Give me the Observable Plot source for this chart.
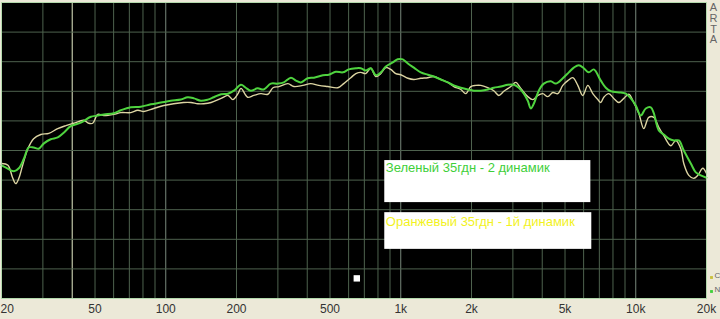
<!DOCTYPE html>
<html>
<head>
<meta charset="utf-8">
<script src="https://cdn.jsdelivr.net/npm/d3@7"></script>
<script src="https://cdn.jsdelivr.net/npm/@observablehq/plot@0.6"></script>
<style>
  html, body { margin: 0; padding: 0; background: #ECE9D8; overflow: hidden; }
</style>
</head>
<body>
<div id="chart"></div>
<script>
// Green curve: 35гдн - 2 динамик
const greenFreq = [20,20.9,22.6,23.7,24.9,26.1,27.4,28.8,30.3,32.4,34.7,36.8,39.4,43.5,48.0,51.4,54.5,60.1,64.4,71.0,78.3,86.4,95.3,105,116,124,132,141,151,160,172,184,195,209,219,230,246,261,280,300,318,341,358,376,402,427,466,494,529,567,601,644,676,710,746,783,823,864,925,971,1020,1072,1137,1217,1303,1382,1481,1586,1682,1801,1929,2046,2191,2347,2489,2666,2855,3027,3179,3339,3472,3576,3682,3867,4061,4350,4568,4892,5189,5450,5723,6009,6311,6629,7100,7457,7831,8641,9075,9528,10000,10500,11030,11590,11930,12530,13160,13820,14520,15250,16010,17150,18010,18910,20000];
const greenDb = [72.5,72.1,71.5,72.0,73.6,75.5,75.5,75.3,76.2,76.9,77.2,78.0,79.1,79.7,80.7,80.9,81.1,81.3,81.8,82.3,82.4,82.8,83.1,83.4,83.6,84.0,83.8,83.4,83.6,84.0,84.5,84.6,85.1,86.1,85.6,85.1,85.5,85.3,86.3,86.3,86.5,87.3,86.8,86.5,87.2,87.3,87.7,87.8,88.3,88.2,88.7,88.9,88.9,88.5,88.9,87.7,88.2,89.2,89.9,90.4,90.4,89.7,89.0,88.2,87.8,87.5,87.0,86.5,86.0,85.6,85.3,85.1,85.1,85.3,85.6,85.8,86.1,86.1,85.6,84.6,83.4,82.1,82.9,85.1,86.3,86.7,86.3,87.2,88.2,89.0,89.4,88.9,88.2,88.7,86.8,85.6,85.0,84.8,84.6,83.8,82.6,80.9,82.1,82.3,81.3,78.4,77.7,77.0,76.7,76.7,75.0,72.8,71.3,70.8,70.4];

// Orange curve: 35гдн - 1й динамик
const orangeFreq = [20,21.3,22.3,23.0,23.7,24.6,25.9,27.4,29.4,31.8,34.7,37.6,40.6,44.8,47.0,48.9,51.4,54.5,60.1,64.4,71.0,76.0,80.7,88.9,98.1,108,119,128,137,145,156,172,184,193,203,209,223,237,254,272,286,303,331,351,383,414,448,489,540,572,613,644,676,710,746,783,823,864,907,952,1000,1072,1137,1217,1303,1382,1481,1586,1682,1801,1891,1987,2086,2191,2347,2489,2614,2745,2940,3087,3242,3472,3647,3830,4021,4223,4436,4659,4892,5139,5397,5667,5951,6251,6564,6894,7100,7311,7680,8064,8474,8899,9342,9810,10300,10820,11360,11930,12530,13160,14100,14800,15550,16010,16820,17660,18360,19290,20000];
const orangeDb = [72.8,72.5,70.4,69.4,70.3,72.5,75.3,77.0,77.7,77.9,78.7,79.2,79.6,80.1,79.6,79.6,81.1,80.9,81.1,81.4,81.4,81.8,81.6,82.1,82.6,82.9,83.1,83.1,82.9,82.9,83.1,83.8,84.3,83.6,84.6,85.5,84.0,84.3,84.6,84.5,85.6,85.8,86.3,85.8,86.0,86.3,86.0,85.8,85.6,86.3,87.3,88.0,88.2,88.0,88.9,87.5,88.0,89.0,88.7,88.0,87.8,87.2,87.0,87.2,87.3,87.5,87.0,86.5,85.8,85.3,84.6,85.8,86.0,86.0,85.6,85.1,84.3,85.0,85.8,86.5,85.5,84.1,83.6,84.3,84.6,84.1,84.8,84.6,86.0,86.8,87.3,86.0,84.3,86.0,84.6,83.6,83.1,84.0,84.6,83.8,83.1,83.8,84.5,83.1,81.3,78.7,80.6,80.6,78.9,77.5,75.8,76.7,75.3,72.8,70.8,70.3,70.8,72.0,71.1];

// Axis ticks and grid
const xTicks = [20, 50, 100, 200, 500, 1000, 2000, 5000, 10000, 20000];
const xTickLabels = ["20", "50", "100", "200", "500", "1k", "2k", "5k", "10k", "20k"];
const gridFreqs = [30,40,50,60,70,80,90,200,300,400,500,600,700,800,900,2000,3000,4000,5000,6000,7000,8000,9000];
const decadeFreqs = [100, 1000, 10000];
const cursorFreq = [40];
const gridDb = [55, 60, 65, 70, 75, 80, 85, 90, 95];

// Annotation boxes
const noteTexts = ["Зеленый 35гдн - 2 динамик", "Оранжевый 35гдн - 1й динамик"];
const noteColors = ["#3fcf3a", "#f2f21e"];
const noteX = [864, 864];
const noteY = [72.1, 63.0];
const boxX1 = [855, 855];
const boxX2 = [6440, 6500];
const boxY1 = [66.2, 58.3];
const boxY2 = [73.3, 64.5];
const markerFreq = [650];
const markerDb = [53.4];

const ticks = xTicks.map((f, i) => ({f, label: xTickLabels[i]}));
const green = greenFreq.map((f, i) => ({f, db: greenDb[i]}));
const orange = orangeFreq.map((f, i) => ({f, db: orangeDb[i]}));
const boxes = boxX1.map((x1, i) => ({x1, x2: boxX2[i], y1: boxY1[i], y2: boxY2[i]}));
const notes = noteTexts.map((t, i) => ({t, x: noteX[i], y: noteY[i], c: noteColors[i]}));

const chart = Plot.plot({
  width: 720,
  height: 319,
  marginLeft: 1,
  marginRight: 14,
  marginTop: 2,
  marginBottom: 21,
  style: {background: "#ECE9D8", fontFamily: "Liberation Sans, Arial, sans-serif", fontSize: "12px", color: "#333"},
  x: {type: "log", domain: [20, 20000], label: null, axis: null},
  y: {domain: [50, 100], axis: null},
  marks: [
    Plot.frame({fill: "black"}),
    Plot.ruleX(gridFreqs, {stroke: "#4e624e", strokeWidth: 1}),
    Plot.ruleX(decadeFreqs, {stroke: "#78897b", strokeWidth: 1}),
    Plot.ruleX(cursorFreq, {stroke: "#c9c9ad", strokeWidth: 1}),
    Plot.ruleY(gridDb, {stroke: "#4e624e", strokeWidth: 1}),
    Plot.line(orange, {x: "f", y: "db", stroke: "#dcd4a2", strokeWidth: 1.4, curve: "catmull-rom"}),
    Plot.line(green, {x: "f", y: "db", stroke: "#4fd33f", strokeWidth: 2, curve: "catmull-rom"}),
    Plot.rect(boxes, {x1: "x1", x2: "x2", y1: "y1", y2: "y2", fill: "white"}),
    Plot.text(notes, {x: "x", y: "y", text: "t", fill: "c", textAnchor: "start", fontSize: 13, fontFamily: "Liberation Sans, Arial, sans-serif"}),
    Plot.dot(markerFreq.map((f, i) => ({f, db: markerDb[i]})), {x: "f", y: "db", symbol: "square", r: 3.6, fill: "white", stroke: "none"}),
    Plot.frame({stroke: "#b3d8ac", strokeWidth: 1}),
    // tick labels (first one kept inside the left edge)
    Plot.text(ticks.slice(0, 1), {x: "f", text: "label", frameAnchor: "bottom", lineAnchor: "top", dy: 6, dx: -1, textAnchor: "start", fill: "#333", fontSize: 12}),
    Plot.text(ticks.slice(1), {x: "f", text: "label", frameAnchor: "bottom", lineAnchor: "top", dy: 6, textAnchor: "middle", fill: "#333", fontSize: 12}),
    Plot.text(["A\nR\nT\nA"], {frameAnchor: "top-right", dx: 7, dy: 1, textAnchor: "middle", fill: "#666", fontSize: 11, lineHeight: 0.98}),
    Plot.dot(["O"], {frameAnchor: "bottom-right", dx: 5, dy: -21, symbol: "square", r: 1.6, fill: "#c8bf3a"}),
    Plot.dot(["N"], {frameAnchor: "bottom-right", dx: 5, dy: -7, symbol: "square", r: 1.6, fill: "#3fcf3a"}),
    Plot.text(["C"], {frameAnchor: "bottom-right", dx: 8, dy: -21, textAnchor: "start", fill: "#666", fontSize: 8}),
    Plot.text(["N"], {frameAnchor: "bottom-right", dx: 8, dy: -7, textAnchor: "start", fill: "#666", fontSize: 8})
  ]
});
document.getElementById("chart").appendChild(chart);
</script>
</body>
</html>
